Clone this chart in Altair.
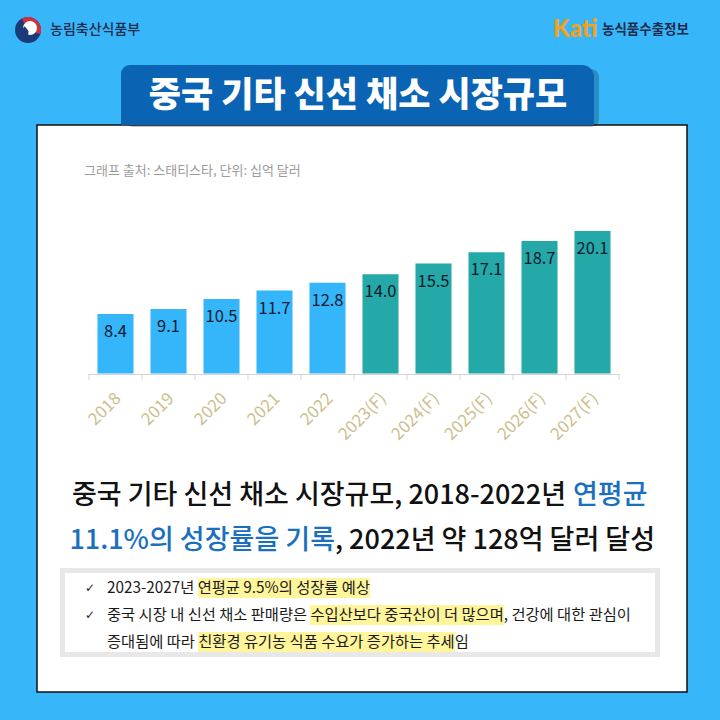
import altair as alt
import pandas as pd

# ---------------- data ----------------
years = ["2018", "2019", "2020", "2021", "2022",
         "2023(F)", "2024(F)", "2025(F)", "2026(F)", "2027(F)"]
values = [8.4, 9.1, 10.5, 11.7, 12.8, 14.0, 15.5, 17.1, 18.7, 20.1]
value_labels = ["8.4", "9.1", "10.5", "11.7", "12.8", "14.0", "15.5", "17.1", "18.7", "20.1"]
kinds = ["실적"] * 5 + ["전망"] * 5

title_text = "중국 기타 신선 채소 시장규모"
source_note = "그래프 출처: 스태티스타, 단위: 십억 달러"
head1_black = "중국 기타 신선 채소 시장규모, 2018-2022년"
head1_blue = "연평균"
head2_blue = "11.1%의 성장률을 기록"
head2_black = ", 2022년 약 128억 달러 달성"
bullet_lines = [
    "2023-2027년 연평균 9.5%의 성장률 예상",
    "중국 시장 내 신선 채소 판매량은 수입산보다 중국산이 더 많으며, 건강에 대한 관심이",
    "증대됨에 따라 친환경 유기농 식품 수요가 증가하는 추세임",
]
ministry = "농림축산식품부"
kati_logo = "Kati"
kati_name = "농식품수출정보"

df = pd.DataFrame({"year": years, "value": values, "label": value_labels, "kind": kinds})

# ---------------- styles ----------------
SKY = "#37b7fa"
BAR_BLUE = "#35b6fb"
TEAL = "#24a8a8"
NAVY = "#0a63b3"
KR = "Noto Sans CJK KR"

one = pd.DataFrame({"k": [0]})


def rect(x, x2, y, y2, color, **kw):
    return alt.Chart(one).mark_rect(color=color, **kw).encode(
        x=alt.value(x), x2=alt.value(x2), y=alt.value(y), y2=alt.value(y2))


def label(s, x, y, **kw):
    kw.setdefault("font", KR)
    kw.setdefault("baseline", "middle")
    return alt.Chart(one).mark_text(text=s, **kw).encode(x=alt.value(x), y=alt.value(y))


def arc(x, y, r, r2, t1, t2, color):
    return alt.Chart(one).mark_arc(radius=r, radius2=r2, theta=t1, theta2=t2, color=color).encode(
        x=alt.value(x), y=alt.value(y))


xscale = alt.Scale(domain=years, range=[89, 619], paddingInner=0.32, paddingOuter=0.16)
yscale = alt.Scale(domain=[0, 20.1], range=[373.5, 231], zero=True, nice=False)
X = alt.X("year:N", scale=xscale, sort=years, axis=None)

# ---------------- decorations ----------------
layers = []
# white card
layers.append(rect(37, 687, 125, 692, "white", stroke="#111111", strokeWidth=1.5))
# banner shadow + banner
layers.append(rect(125, 599, 69, 127, "#000000", opacity=0.22, cornerRadius=8))
layers.append(rect(121, 594, 65, 125, NAVY, cornerRadiusTopLeft=9, cornerRadiusTopRight=12))
layers.append(label(title_text, 358, 96, fontSize=35, fontWeight=900, color="white", align="center"))

# header logos
layers.append(arc(28, 30, 13, 0, 0, 6.2832, "#1d3a78"))
layers.append(arc(28, 30, 13, 8, 0, 1.9, "#d22f3c"))
layers.append(arc(28, 30, 13, 8, 5.78, 6.2832, "#d22f3c"))
layers.append(arc(30, 28, 7, 0, 0, 6.2832, "white"))
layers.append(arc(28.5, 31, 6, 0, 3.2, 5.6, "#1d3a78"))
layers.append(label(ministry, 50, 30, fontSize=14, color="#1f2b4d", align="left", fontWeight=500))
layers.append(label(kati_logo, 553, 30, fontSize=24, color="#f3a21c", align="left",
                    fontWeight=900, font="Lato"))
layers.append(label(kati_name, 602, 30, fontSize=13.5, color="#1f2b4d", align="left", fontWeight="bold"))

# source note
layers.append(label(source_note, 84, 171, fontSize=13, color="#9b9b9b", align="left"))

# axis line + final tick
layers.append(alt.Chart(one).mark_rule(color="#d3d3d3", strokeWidth=1).encode(
    x=alt.value(89), x2=alt.value(619.5), y=alt.value(374.5)))
layers.append(alt.Chart(one).mark_rule(color="#d3d3d3", strokeWidth=1).encode(
    x=alt.value(619), y=alt.value(374.5), y2=alt.value(380)))

# ---------------- data layers ----------------
bars = alt.Chart(df).mark_bar().encode(
    x=X,
    y=alt.Y("value:Q", scale=yscale, axis=None),
    color=alt.Color("kind:N", scale=alt.Scale(domain=["실적", "전망"], range=[BAR_BLUE, TEAL]), legend=None),
)
vals = alt.Chart(df).mark_text(font=KR, fontSize=16.5, color="#0c1a2c", dy=18, baseline="middle").encode(
    x=X, y=alt.Y("value:Q", scale=yscale), text="label:N")
ticks = alt.Chart(df).mark_rule(color="#d3d3d3", strokeWidth=1, xOffset=-8.5).encode(
    x=alt.X("year:N", scale=xscale, sort=years, axis=None, bandPosition=0),
    y=alt.value(374.5), y2=alt.value(380))
xlabels = alt.Chart(df).mark_text(font=KR, fontSize=17, color="#cbbf8d", angle=315, xOffset=3,
                                  align="right", baseline="middle").encode(
    x=X, y=alt.value(396), text="year:N")
layers += [bars, vals, ticks, xlabels]

# headline
layers.append(label(head1_black, 566, 496, fontSize=27, fontWeight=500, color="#111111", align="right"))
layers.append(label(head1_blue, 573, 496, fontSize=27, fontWeight=500, color="#1a6fbf", align="left"))
layers.append(label(head2_blue, 335, 541, fontSize=27, fontWeight=500, color="#1a6fbf", align="right"))
layers.append(label(head2_black, 335, 541, fontSize=27, fontWeight=500, color="#111111", align="left"))

# bullet box
layers.append(rect(60, 660, 568, 657, "#e8e8e8"))
layers.append(rect(65, 655, 573, 652, "white"))
layers.append(rect(198, 370, 578, 598, "#fff59b"))
layers.append(rect(310, 504, 605, 625, "#fff59b"))
layers.append(rect(198, 455, 632, 652, "#fff59b"))
layers.append(label("✓", 90, 588, fontSize=12, color="#222222", font="DejaVu Sans", align="center"))
layers.append(label("✓", 90, 615, fontSize=12, color="#222222", font="DejaVu Sans", align="center"))
for i, line in enumerate(bullet_lines):
    layers.append(label(line, 107, 588 + 27 * i, fontSize=15.3, color="#1a1a1a", align="left"))

chart = alt.layer(*layers).properties(
    width=720, height=720, padding=0, background=SKY,
    autosize=alt.AutoSizeParams(type="none"),
).configure_view(stroke=None)

chart.save("out.html", embed_options={"renderer": "svg", "actions": False})
